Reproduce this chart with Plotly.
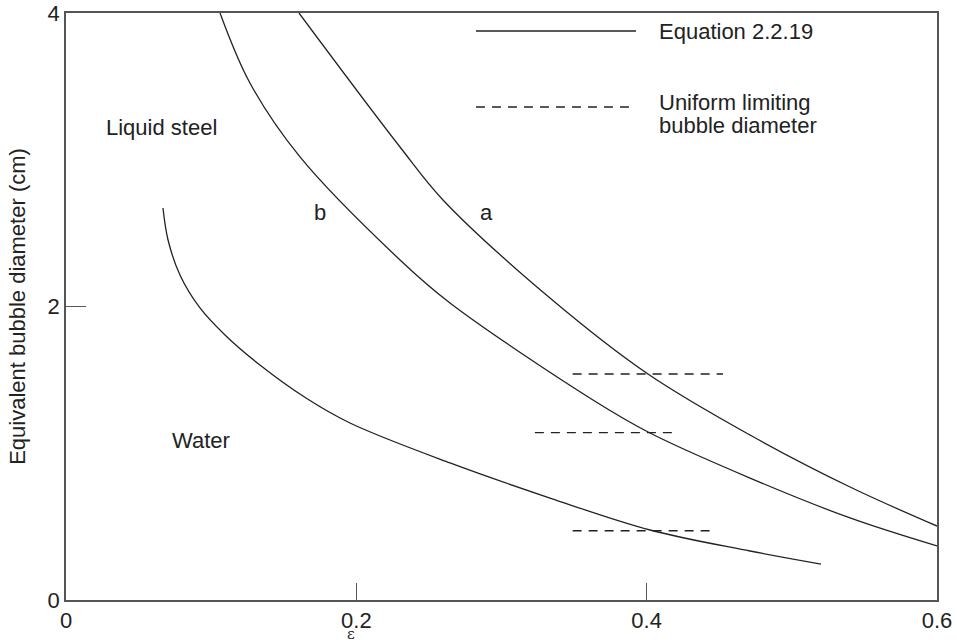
import plotly.graph_objects as go

# Curve a (liquid steel, upper)
a_x = [0.1605, 0.2301, 0.2597, 0.3334, 0.4009, 0.4712, 0.5401, 0.6000]
a_y = [4.000, 3.087, 2.726, 2.058, 1.540, 1.124, 0.770, 0.504]
# Curve b (liquid steel, lower)
b_x = [0.1061, 0.1267, 0.1612, 0.2301, 0.2645, 0.3630, 0.4023, 0.4712, 0.5401, 0.6000]
b_y = [4.000, 3.523, 3.019, 2.317, 2.024, 1.363, 1.138, 0.831, 0.559, 0.368]
# Water curve
w_x = [0.0668, 0.0703, 0.0785, 0.0923, 0.1095, 0.1336, 0.1653, 0.1956, 0.2645, 0.3334, 0.4023, 0.4712, 0.5201]
w_y = [2.671, 2.453, 2.215, 1.990, 1.806, 1.601, 1.376, 1.206, 0.934, 0.695, 0.477, 0.334, 0.245]

# Uniform limiting bubble diameters (dashed segments)
lim_x_start = [0.349, 0.323, 0.349]
lim_x_end = [0.4526, 0.4174, 0.4436]
lim_y = [1.540, 1.140, 0.472]

x_ticks = [0, 0.2, 0.4, 0.6]
x_ticktext = ["0", "0.2", "0.4", "0.6"]
y_ticks = [0, 2, 4]
y_ticktext = ["0", "2", "4"]

LINE = "#222222"
AX = "#555555"
FONT = "Liberation Sans, Arial, sans-serif"

fig = go.Figure()
for xs, ys in [(a_x, a_y), (b_x, b_y), (w_x, w_y)]:
    fig.add_trace(go.Scatter(x=xs, y=ys, mode="lines",
                             line=dict(color=LINE, width=1.3, shape="spline", smoothing=1.0),
                             showlegend=False, hoverinfo="skip"))
for x0, x1, yv in zip(lim_x_start, lim_x_end, lim_y):
    fig.add_trace(go.Scatter(x=[x0, x1], y=[yv, yv], mode="lines",
                             line=dict(color=LINE, width=1.3, dash="9px,7px"),
                             showlegend=False, hoverinfo="skip"))

# legend drawn manually
fig.add_shape(type="line", xref="paper", yref="paper", x0=0.4707, x1=0.6544, y0=0.9693, y1=0.9693,
              line=dict(color=LINE, width=1.3))
fig.add_shape(type="line", xref="paper", yref="paper", x0=0.4707, x1=0.6498, y0=0.8399, y1=0.8399,
              line=dict(color=LINE, width=1.3, dash="9px,7px"))

tf = dict(family=FONT, size=22, color="#222222")
fig.add_annotation(xref="paper", yref="paper", x=0.6785, y=0.9693, text="Equation 2.2.19",
                   showarrow=False, xanchor="left", yanchor="middle", font=tf)
fig.add_annotation(xref="paper", yref="paper", x=0.6785, y=0.8467, text="Uniform limiting",
                   showarrow=False, xanchor="left", yanchor="middle", font=tf)
fig.add_annotation(xref="paper", yref="paper", x=0.6785, y=0.8075, text="bubble diameter",
                   showarrow=False, xanchor="left", yanchor="middle", font=tf)
fig.add_annotation(x=0.0655, y=3.22, text="Liquid steel", showarrow=False, font=tf)
fig.add_annotation(x=0.0930, y=1.09, text="Water", showarrow=False, font=tf)
fig.add_annotation(x=0.1750, y=2.64, text="b", showarrow=False, font=tf)
fig.add_annotation(x=0.2900, y=2.64, text="a", showarrow=False, font=tf)
fig.add_annotation(xref="x", yref="paper", x=0.196, y=-0.058, text="ε", showarrow=False,
                   yanchor="middle", font=dict(family="DejaVu Serif, serif", size=15, color="#222222"))

fig.update_xaxes(range=[0, 0.6], tickvals=x_ticks, ticktext=x_ticktext, ticks="inside", ticklen=17,
                 tickcolor=AX, tickwidth=1.3, showline=True, linecolor=AX, linewidth=1.5, mirror=True,
                 showgrid=False, zeroline=False, tickfont=tf, automargin=False, ticklabeloverflow="allow")
fig.update_yaxes(range=[0, 4], tickvals=y_ticks, ticktext=y_ticktext, ticks="inside", ticklen=20,
                 tickcolor=AX, tickwidth=1.3, showline=True, linecolor=AX, linewidth=1.5, mirror=True,
                 showgrid=False, zeroline=False, tickfont=tf, automargin=False, ticklabeloverflow="allow",
                 title=dict(text="Equivalent bubble diameter (cm)", font=tf, standoff=16))
fig.update_layout(width=957, height=644, margin=dict(l=66, r=20, t=13, b=44),
                  plot_bgcolor="white", paper_bgcolor="white", showlegend=False)
fig.write_html("out.html", config={"displayModeBar": False},
               post_script="document.body.style.margin='0';")
